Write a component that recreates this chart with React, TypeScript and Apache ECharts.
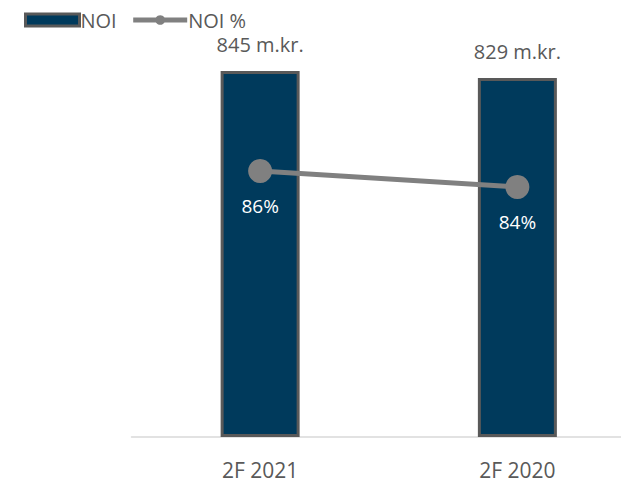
import React, { useEffect, useRef } from "react";
import * as echarts from "echarts";

const categories = ["2F 2021", "2F 2020"];
const noiValues = [845, 829];
const noiPctValues = [86, 84];
const barLabels = ["845 m.kr.", "829 m.kr."];

export default function App() {
  const ref = useRef<HTMLDivElement>(null);
  useEffect(() => {
    const chart = echarts.init(ref.current!, null, { renderer: "svg" });
    const font = "'Open Sans', 'Liberation Sans', sans-serif";
    chart.setOption({
      animation: false,
      textStyle: { fontFamily: font },
      legend: {
        left: 19,
        top: 5,
        itemGap: 14,
        itemWidth: 54,
        itemHeight: 12,
        textStyle: { color: "#595959", fontSize: 20, fontFamily: font, padding: [0, 0, 0, -4] },
        data: [
          {
            name: "NOI",
            icon: "rect",
            itemStyle: { color: "#003a5c", borderColor: "#595959", borderWidth: 3 },
          },
          {
            name: "NOI %",
            itemStyle: { color: "#808080" },
            lineStyle: { color: "#808080", width: 5 },
          },
        ],
      },
      grid: { left: 131.5, right: 0, top: 4, bottom: 45 },
      xAxis: {
        type: "category",
        data: categories,
        axisLine: { lineStyle: { color: "#d9d9d9", width: 1.5 } },
        axisTick: { show: false },
        axisLabel: { color: "#595959", fontSize: 21, margin: 22, fontFamily: font },
      },
      yAxis: [
        { type: "value", min: 0, max: 1000, show: false, splitLine: { show: false } },
        { type: "value", min: 52.75, max: 106.875, show: false, splitLine: { show: false } },
      ],
      series: [
        {
          name: "NOI",
          type: "bar",
          data: noiValues,
          barWidth: 79,
          itemStyle: { color: "#003a5c", borderColor: "#595959", borderWidth: 3 },
          label: {
            show: true,
            position: "top",
            distance: 17,
            color: "#595959",
            fontSize: 20,
            fontFamily: font,
            formatter: (p: any) => barLabels[p.dataIndex],
          },
        },
        {
          name: "NOI %",
          type: "line",
          yAxisIndex: 1,
          data: noiPctValues,
          symbol: "circle",
          symbolSize: 24,
          lineStyle: { color: "#808080", width: 5 },
          itemStyle: { color: "#808080" },
          label: {
            show: true,
            position: "bottom",
            distance: 13,
            color: "#ffffff",
            fontSize: 19,
            fontFamily: font,
            formatter: (p: any) => p.value + "%",
          },
        },
      ],
    });
    return () => chart.dispose();
  }, []);
  return (
    <div
      style={{ position: "fixed", left: 0, top: 0, width: 621, height: 482, overflow: "hidden", background: "#fff" }}
    >
      <div ref={ref} style={{ width: 646, height: 482 }} />
    </div>
  );
}
